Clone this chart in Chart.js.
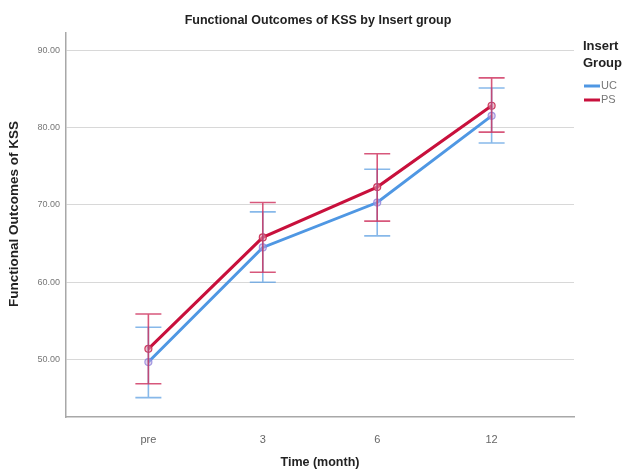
<!DOCTYPE html>
<html lang="en">
<head>
  <meta charset="UTF-8">
  <title>Functional Outcomes of KSS by Insert group</title>
  <style>
    * { margin: 0; padding: 0; box-sizing: border-box; }
    body { background: #ffffff; width: 626px; height: 474px; overflow: hidden; }
    .wrap { position: relative; width: 626px; height: 474px; }
  </style>
  <script src="https://cdn.jsdelivr.net/npm/chart.js@4.4.1/dist/chart.umd.min.js"></script>
</head>
<body>
  <div class="wrap"><canvas id="kssChart" width="626" height="474"></canvas></div>

  <script>
    // data
    const timeLabels = ['pre', '3', '6', '12'];
    const yTicks = [50, 60, 70, 80, 90];

    const ucMean  = [49.7, 64.5, 70.3, 81.5];
    const ucUpper = [54.2, 69.1, 74.6, 85.1];
    const ucLower = [45.1, 60.0, 66.0, 78.0];

    const psMean  = [51.4, 65.8, 72.3, 82.8];
    const psUpper = [55.9, 70.3, 76.6, 86.4];
    const psLower = [46.9, 61.3, 67.9, 79.4];

    const ucColor = '#4f97e3';
    const psColor = '#c8103c';
    const FONT = '"Liberation Sans", Arial, sans-serif';

    const toPoints = arr => arr.map((v, i) => ({ x: i, y: v }));

    // error bars, title, y title and legend drawn on the canvas
    const extras = {
      id: 'extras',
      afterDatasetsDraw(chart) {
        const c = chart.ctx;
        const xs = chart.scales.x, ys = chart.scales.y;
        const bars = [
          { up: ucUpper, lo: ucLower, color: 'rgba(95,160,225,0.75)' },
          { up: psUpper, lo: psLower, color: 'rgba(205,45,90,0.8)' }
        ];
        c.save();
        bars.forEach(b => {
          c.strokeStyle = b.color;
          c.lineWidth = 1.6;
          b.up.forEach((u, i) => {
            const px = xs.getPixelForValue(i);
            const pu = ys.getPixelForValue(u);
            const pl = ys.getPixelForValue(b.lo[i]);
            c.beginPath();
            c.moveTo(px, pu); c.lineTo(px, pl);
            c.moveTo(px - 13, pu); c.lineTo(px + 13, pu);
            c.moveTo(px - 13, pl); c.lineTo(px + 13, pl);
            c.stroke();
          });
        });
        c.restore();
      },
      afterDraw(chart) {
        const c = chart.ctx;
        c.save();
        c.fillStyle = '#222';
        c.font = 'bold 12.5px ' + FONT;
        c.textAlign = 'center';
        c.textBaseline = 'middle';
        c.fillText('Functional Outcomes of KSS by Insert group', 318, 21);

        // y axis title
        c.save();
        c.translate(14, 214);
        c.rotate(-Math.PI / 2);
        c.font = 'bold 13.5px ' + FONT;
        c.fillText('Functional Outcomes of KSS', 0, 0);
        c.restore();

        // legend
        c.textAlign = 'left';
        c.font = 'bold 13px ' + FONT;
        c.fillStyle = '#222';
        c.fillText('Insert', 583, 46);
        c.fillText('Group', 583, 63);
        c.font = '11px ' + FONT;
        c.fillStyle = '#777';
        c.lineWidth = 3;
        [['UC', ucColor, 86], ['PS', psColor, 100]].forEach(([t, col, y]) => {
          c.strokeStyle = col;
          c.beginPath();
          c.moveTo(584, y); c.lineTo(600, y);
          c.stroke();
          c.fillText(t, 601, y);
        });
        c.restore();
      }
    };

    new Chart(document.getElementById('kssChart'), {
      type: 'line',
      data: {
        datasets: [
          {
            label: 'UC',
            data: toPoints(ucMean),
            borderColor: ucColor,
            backgroundColor: 'rgba(200,170,220,0.5)',
            borderWidth: 3,
            pointRadius: 3.5,
            pointBorderWidth: 1.2,
            pointBorderColor: 'rgba(140,130,220,0.8)',
            tension: 0
          },
          {
            label: 'PS',
            data: toPoints(psMean),
            borderColor: psColor,
            backgroundColor: 'rgba(230,150,170,0.6)',
            borderWidth: 3,
            pointRadius: 3.5,
            pointBorderWidth: 1.2,
            pointBorderColor: 'rgba(200,40,80,0.9)',
            tension: 0
          }
        ]
      },
      options: {
        responsive: false,
        animation: false,
        layout: { padding: { top: 33, right: 52, left: 0, bottom: 0 } },
        plugins: {
          legend: { display: false },
          title: { display: false },
          tooltip: { enabled: false }
        },
        scales: {
          x: {
            type: 'linear',
            min: -0.72,
            max: 3.72,
            afterBuildTicks: s => { s.ticks = timeLabels.map((_, i) => ({ value: i })); },
            afterFit: s => { s.height = 57; },
            ticks: {
              callback: v => timeLabels[v],
              color: '#666',
              font: { size: 11, family: FONT },
              padding: 8
            },
            grid: { display: false },
            border: { color: '#a8a8a8', width: 1.5 },
            title: {
              display: true,
              text: 'Time (month)',
              color: '#222',
              font: { size: 12.5, weight: 'bold', family: FONT },
              padding: { top: 8 }
            }
          },
          y: {
            min: 42.6,
            max: 92.2,
            afterBuildTicks: s => { s.ticks = yTicks.map(v => ({ value: v })); },
            afterFit: s => { s.width = 66; },
            ticks: {
              callback: v => v.toFixed(2),
              color: '#777',
              font: { size: 9, family: FONT },
              padding: 6
            },
            grid: { color: '#d8d8d8', lineWidth: 1, drawTicks: false },
            border: { color: '#a8a8a8', width: 1.5 },
            title: { display: false }
          }
        }
      },
      plugins: [extras]
    });
  </script>
</body>
</html>
